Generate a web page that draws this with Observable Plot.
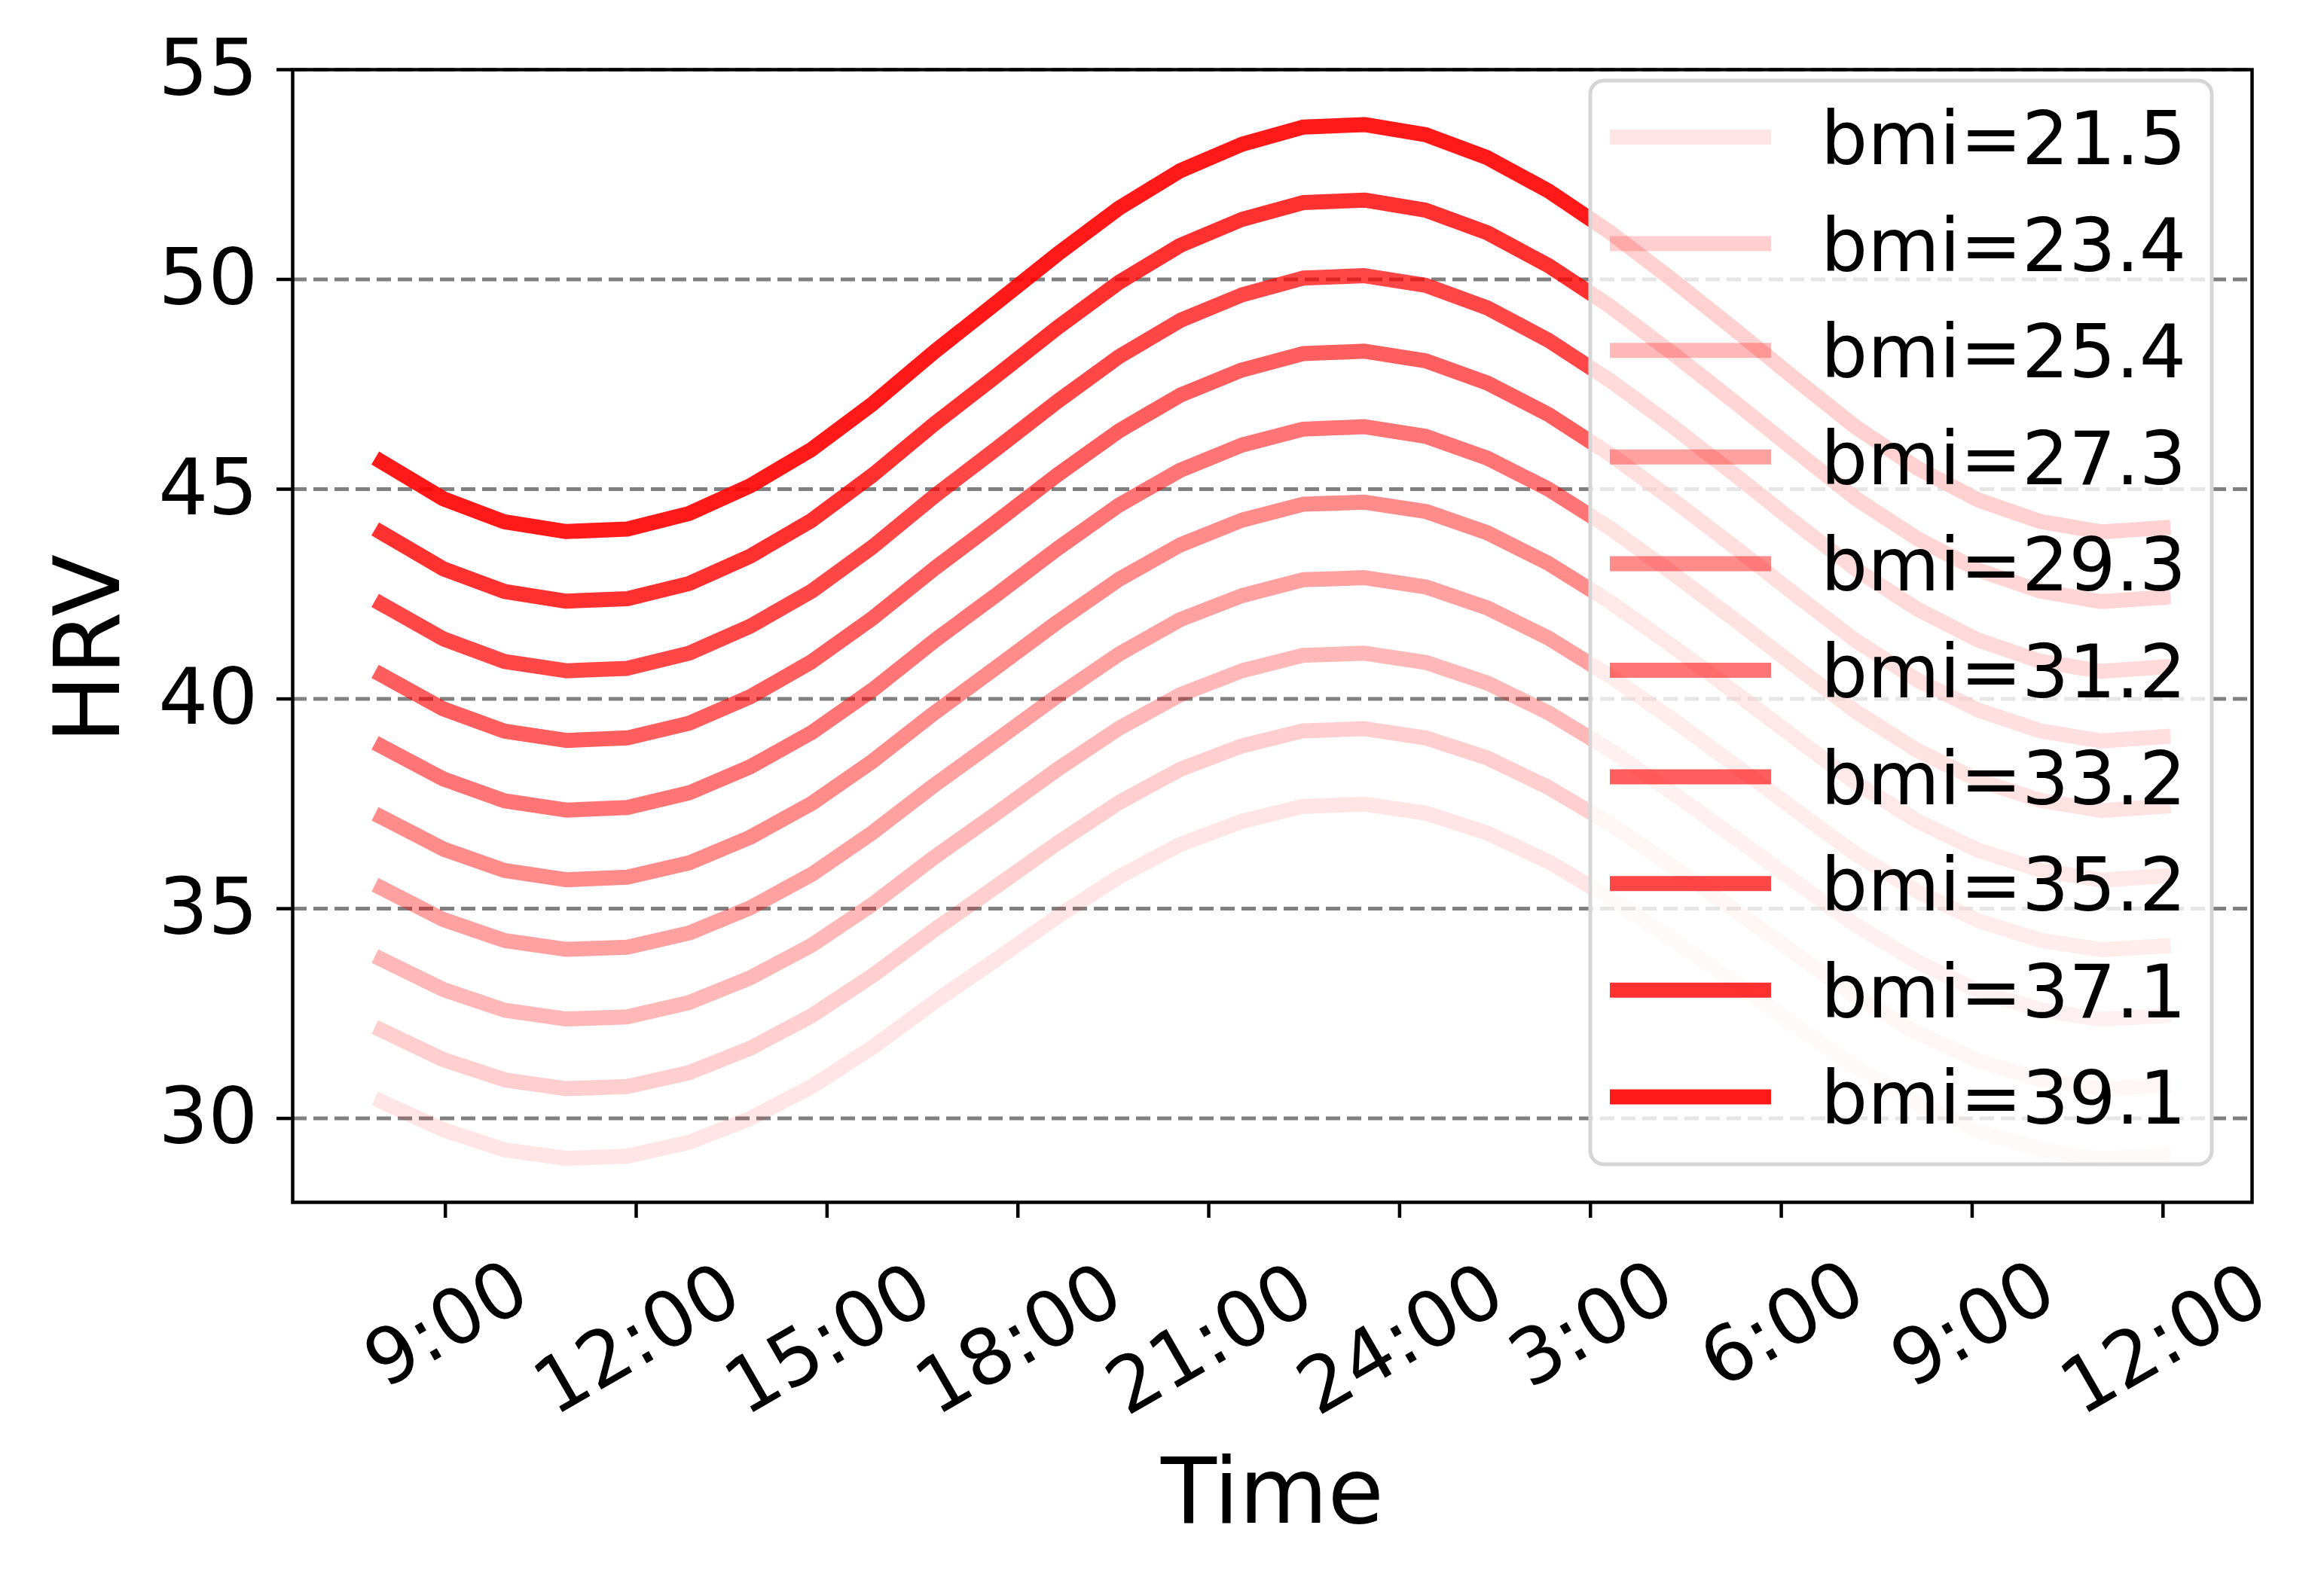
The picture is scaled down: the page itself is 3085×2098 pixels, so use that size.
<!DOCTYPE html>
<html>
<head>
<meta charset="utf-8">
<script src="https://cdn.jsdelivr.net/npm/d3@7"></script>
<script src="https://cdn.jsdelivr.net/npm/@observablehq/plot@0.6"></script>
<style>
  html, body { margin: 0; padding: 0; background: #ffffff; }
  svg { display: block; }
</style>
</head>
<body>
<div id="chart"></div>
<script>
// ---- data ----
// time in hours from midnight of the first day (36 = 12:00 next day)
const hours = [8.00, 8.97, 9.93, 10.90, 11.86, 12.83, 13.79, 14.76, 15.72, 16.69,
               17.66, 18.62, 19.59, 20.55, 21.52, 22.48, 23.45, 24.41, 25.38, 26.34,
               27.31, 28.28, 29.24, 30.21, 31.17, 32.14, 33.10, 34.07, 35.03, 36.00];

const bmiLabels = ["21.5", "23.4", "25.4", "27.3", "29.3", "31.2", "33.2", "35.2", "37.1", "39.1"];

const hrv_21_5 = [30.40, 29.73, 29.25, 29.05, 29.10, 29.43, 30.00, 30.76, 31.70, 32.78, 33.79, 34.81, 35.76, 36.53, 37.08, 37.44, 37.49, 37.28, 36.80, 36.12, 35.25, 34.28, 33.27, 32.22, 31.22, 30.36, 29.70, 29.26, 29.04, 29.13];
const hrv_23_4 = [32.10, 31.40, 30.92, 30.71, 30.76, 31.09, 31.67, 32.45, 33.41, 34.50, 35.53, 36.56, 37.53, 38.32, 38.88, 39.24, 39.29, 39.07, 38.59, 37.89, 37.02, 36.02, 35.00, 33.94, 32.91, 32.04, 31.37, 30.93, 30.70, 30.79];
const hrv_25_4 = [33.79, 33.07, 32.58, 32.37, 32.42, 32.76, 33.35, 34.13, 35.11, 36.23, 37.27, 38.32, 39.30, 40.10, 40.67, 41.04, 41.09, 40.87, 40.38, 39.67, 38.78, 37.77, 36.73, 35.65, 34.61, 33.73, 33.04, 32.59, 32.36, 32.45];
const hrv_27_3 = [35.49, 34.74, 34.24, 34.03, 34.08, 34.42, 35.02, 35.82, 36.82, 37.95, 39.01, 40.07, 41.07, 41.89, 42.46, 42.84, 42.89, 42.67, 42.17, 41.45, 40.54, 39.52, 38.46, 37.36, 36.30, 35.41, 34.71, 34.25, 34.02, 34.11];
const hrv_29_3 = [37.18, 36.42, 35.91, 35.69, 35.75, 36.09, 36.70, 37.51, 38.52, 39.67, 40.75, 41.83, 42.85, 43.67, 44.26, 44.64, 44.69, 44.47, 43.96, 43.23, 42.31, 41.27, 40.19, 39.08, 38.00, 37.09, 36.39, 35.92, 35.68, 35.78];
const hrv_31_2 = [38.87, 38.09, 37.57, 37.35, 37.41, 37.76, 38.38, 39.20, 40.22, 41.39, 42.48, 43.58, 44.62, 45.45, 46.05, 46.43, 46.49, 46.26, 45.74, 45.00, 44.07, 43.01, 41.92, 40.79, 39.70, 38.77, 38.06, 37.58, 37.34, 37.44];
const hrv_33_2 = [40.57, 39.76, 39.23, 39.01, 39.07, 39.42, 40.05, 40.89, 41.93, 43.11, 44.22, 45.34, 46.39, 47.24, 47.84, 48.23, 48.29, 48.06, 47.53, 46.78, 45.83, 44.76, 43.65, 42.50, 41.39, 40.45, 39.73, 39.24, 39.00, 39.10];
const hrv_35_2 = [42.26, 41.43, 40.89, 40.67, 40.73, 41.09, 41.73, 42.57, 43.63, 44.84, 45.96, 47.09, 48.16, 49.02, 49.63, 50.03, 50.09, 49.86, 49.32, 48.55, 47.59, 46.51, 45.38, 44.21, 43.09, 42.14, 41.40, 40.90, 40.66, 40.76];
const hrv_37_1 = [43.96, 43.10, 42.56, 42.33, 42.39, 42.75, 43.40, 44.26, 45.34, 46.56, 47.70, 48.85, 49.93, 50.81, 51.43, 51.83, 51.89, 51.65, 51.11, 50.33, 49.36, 48.25, 47.11, 45.93, 44.78, 43.82, 43.07, 42.57, 42.32, 42.42];
const hrv_39_1 = [45.65, 44.77, 44.22, 43.99, 44.05, 44.42, 45.08, 45.95, 47.04, 48.28, 49.44, 50.60, 51.70, 52.59, 53.22, 53.63, 53.69, 53.45, 52.90, 52.11, 51.12, 50.00, 48.84, 47.64, 46.48, 45.50, 44.74, 44.23, 43.98, 44.08];

const xTickValues = [9, 12, 15, 18, 21, 24, 27, 30, 33, 36];
const xTickLabels = ["9:00", "12:00", "15:00", "18:00", "21:00", "24:00", "3:00", "6:00", "9:00", "12:00"];
const yTickValues = [30, 35, 40, 45, 50, 55];

// ---- tables built from the arrays ----
const seriesValues = [hrv_21_5, hrv_23_4, hrv_25_4, hrv_27_3, hrv_29_3, hrv_31_2, hrv_33_2, hrv_35_2, hrv_37_1, hrv_39_1];
const rows = [];
seriesValues.forEach((vals, k) => {
  vals.forEach((v, i) => rows.push({ time: hours[i], hrv: v, bmi: bmiLabels[k] }));
});
const xTickRows = xTickValues.map((v, i) => ({ value: v, label: xTickLabels[i] }));

// ---- styles ----
const lineColors = bmiLabels.map((_, i) => `rgba(255,0,0,${(0.1 + i * 0.8 / 9).toFixed(3)})`);
const FONT = "DejaVu Sans";

const chart = Plot.plot({
  width: 3085,
  height: 2098,
  marginLeft: 388,
  marginRight: 96,
  marginTop: 92,
  marginBottom: 502,
  style: { fontFamily: FONT, fontSize: "102px", background: "white", color: "black", overflow: "visible" },
  x: { domain: [6.6, 37.4], label: null },
  y: { domain: [28, 55], label: null },
  color: { type: "ordinal", domain: bmiLabels, range: lineColors },
  marks: [
    Plot.ruleY(yTickValues, { stroke: "#808080", strokeWidth: 5, strokeDasharray: "19,9" }),
    Plot.line(rows, {
      x: "time", y: "hrv", z: "bmi", stroke: "bmi",
      strokeWidth: 20, strokeLinecap: "square", strokeLinejoin: "round"
    }),
    Plot.frame({ stroke: "black", strokeWidth: 4.5 }),
    Plot.axisY({ ticks: yTickValues, tickSize: 21, tickPadding: 25, strokeWidth: 4.5, label: null, fontSize: 104 }),
    Plot.axisX({ ticks: xTickValues, tickSize: 21, strokeWidth: 4.5, tickFormat: () => "", label: null }),
    Plot.text(xTickRows.filter(d => d.label.length === 4), {
      x: "value", text: "label", frameAnchor: "bottom", rotate: -30,
      textAnchor: "middle", lineAnchor: "middle", dx: 2, dy: 163, fontSize: 102
    }),
    Plot.text(xTickRows.filter(d => d.label.length === 5), {
      x: "value", text: "label", frameAnchor: "bottom", rotate: -30,
      textAnchor: "middle", lineAnchor: "middle", dx: 2, dy: 183, fontSize: 102
    }),
    Plot.text(["Time"], { text: d => d, frameAnchor: "bottom", textAnchor: "middle", lineAnchor: "middle", dy: 387, fontSize: 121 }),
    Plot.text(["HRV"], { text: d => d, frameAnchor: "left", rotate: -90, textAnchor: "middle", lineAnchor: "middle", dx: -269, dy: 17, fontSize: 121 })
  ]
});

document.getElementById("chart").appendChild(chart);

// ---- legend (drawn on top of the plot, semi-transparent frame) ----
const svg = d3.select(chart);
const lg = svg.append("g").attr("font-family", FONT).attr("text-anchor", "start");
lg.append("rect")
  .attr("x", 2111).attr("y", 107).attr("width", 825).attr("height", 1439)
  .attr("rx", 18).attr("ry", 18)
  .attr("fill", "white").attr("fill-opacity", 0.8)
  .attr("stroke", "#d6d6d6").attr("stroke-width", 5);
bmiLabels.forEach((b, i) => {
  const yRow = 182 + i * 141.6;
  lg.append("line")
    .attr("x1", 2147).attr("x2", 2341).attr("y1", yRow).attr("y2", yRow)
    .attr("stroke", lineColors[i]).attr("stroke-width", 20).attr("stroke-linecap", "square");
  lg.append("text")
    .attr("x", 2417).attr("y", yRow + 36)
    .attr("text-anchor", "start")
    .attr("font-size", 98).attr("fill", "black")
    .text(`bmi=${b}`);
});
</script>
</body>
</html>
